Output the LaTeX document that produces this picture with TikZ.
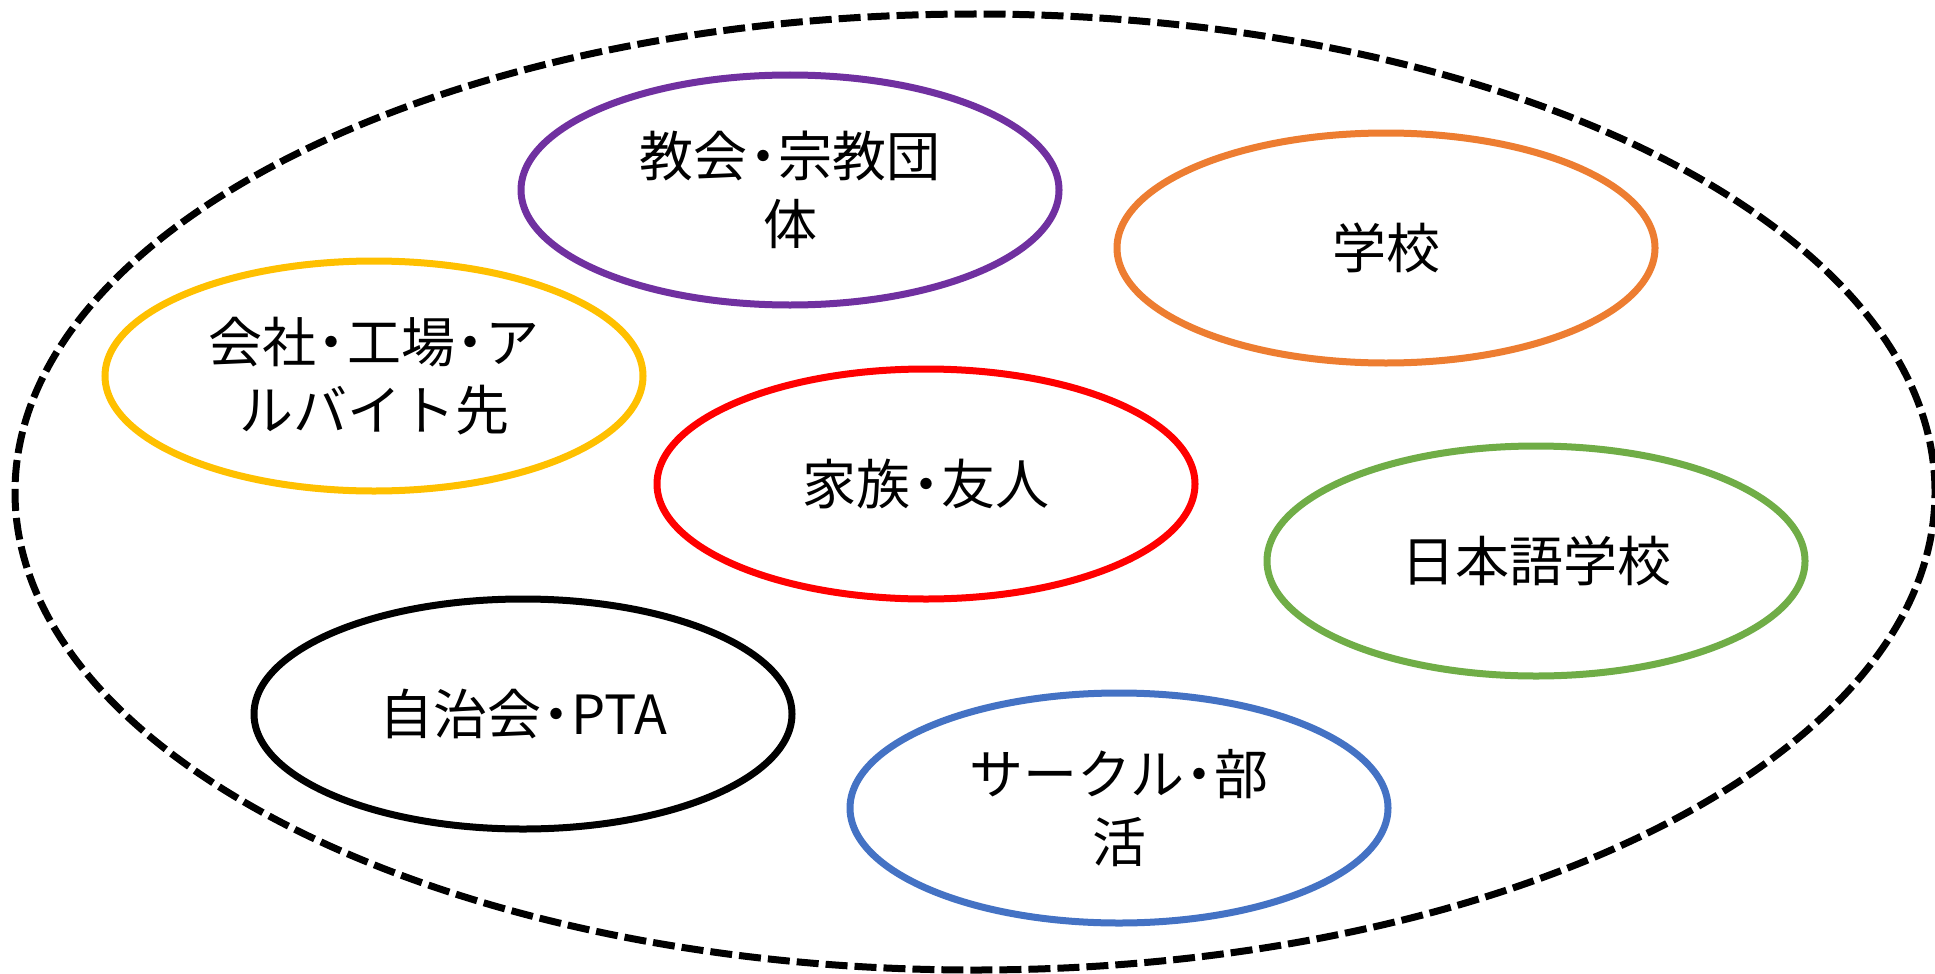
\documentclass[tikz,border=0pt]{standalone}
\usepackage{fontspec}
\usetikzlibrary{shapes.geometric}
\newfontfamily\jpfont{Noto Sans CJK JP}
\definecolor{cpurple}{HTML}{7030A0}
\definecolor{corange}{HTML}{ED7D31}
\definecolor{cyellow}{HTML}{FFC000}
\definecolor{cred}{HTML}{FF0000}
\definecolor{cgreen}{HTML}{70AD47}
\definecolor{cblue}{HTML}{4472C4}
\newcommand\jdot{\hspace{-0.22em}・\hspace{-0.22em}}
\begin{document}
\begin{tikzpicture}[x=1pt,y=-1pt,
  blob/.style={ellipse, draw, line width=7pt, minimum width=538pt, minimum height=230pt,
    inner sep=0pt, align=center, font=\jpfont\fontsize{54}{68}\selectfont},
  outerring/.style={ellipse, draw, line width=7pt, dash pattern=on 22pt off 7pt,
    minimum width=1920pt, minimum height=956pt, inner sep=0pt}]
\useasboundingbox (0,0) rectangle (1935,974);
\fill[white] (0,0) rectangle (1935,974);
\node[outerring] (outer) at (975,492) {};
\node[blob, draw=cpurple] (church) at (790,190) {教会\jdot 宗教団\\体};
\node[blob, draw=corange] (school) at (1386,248) {学校};
\node[blob, draw=cyellow] (work) at (374,376) {会社\jdot 工場\jdot ア\\ルバイト先};
\node[blob, draw=cred] (family) at (926,484) {家族\jdot 友人};
\node[blob, draw=cgreen] (jschool) at (1536,561) {日本語学校};
\node[blob, draw=black] (pta) at (523,714) {自治会\jdot PTA};
\node[blob, draw=cblue] (circle) at (1119,808) {サークル\jdot 部\\活};
\end{tikzpicture}
\end{document}
